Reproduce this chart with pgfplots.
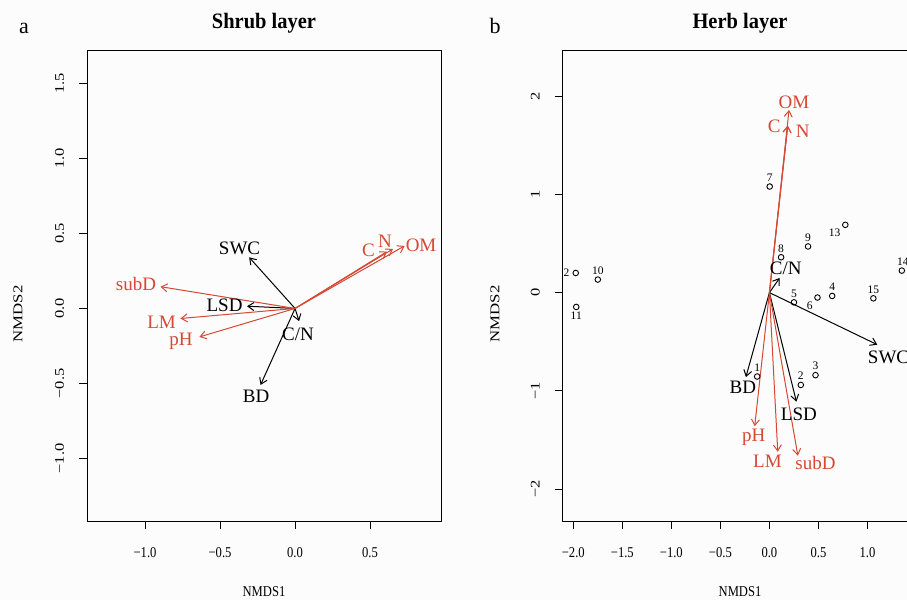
\documentclass[border=0pt]{standalone}
\usepackage{fontspec}
\setmainfont{Liberation Serif}
\usepackage{pgfplots}
\pgfplotsset{compat=1.18}
\usetikzlibrary{arrows.meta}
\definecolor{envred}{RGB}{214,72,52}

\pgfplotsset{
  nmds/.style={
    scale only axis, width=354pt, height=471pt, anchor=south west,
    axis line style={line width=0.8pt},
    tick align=outside, major tick length=8pt, tick pos=left,
    every tick/.style={black, line width=0.8pt},
    xticklabel style={font=\fontsize{15}{17}\selectfont, xscale=0.84},
    yticklabel style={font=\fontsize{16.5}{18}\selectfont, rotate=90, yscale=0.8, anchor=south},
    xticklabel shift=15pt, yticklabel shift=12pt,
  },
  blk/.style={black, line width=1pt, -{Straight Barb[length=6pt,width=8pt]}},
  rd/.style={envred, line width=1pt, -{Straight Barb[length=6pt,width=8pt]}},
}
\newcommand{\lab}{\fontsize{19}{21}\selectfont}
\newcommand{\num}{\fontsize{11.5}{13}\selectfont}

\begin{document}
\begin{tikzpicture}[x=1pt,y=1pt]
\useasboundingbox (0,0) rectangle (907,600);
\clip (0,0) rectangle (907,600);
\fill[black!1] (0,0) rectangle (907,600);

% panel a
\begin{axis}[nmds, at={(87pt,79pt)},
  xmin=-1.387, xmax=0.973, ymin=-1.417, ymax=1.723,
  xtick={-1,-0.5,0,0.5}, xticklabels={−1.0,−0.5,0.0,0.5},
  ytick={-1,-0.5,0,0.5,1,1.5}, yticklabels={−1.0,−0.5,0.0,0.5,1.0,1.5}]
\addplot[blk] coordinates {(0,0) (-0.306,0.341)};
\addplot[blk] coordinates {(0,0) (-0.32,0.015)};
\addplot[blk] coordinates {(0,0) (0.027,-0.085)};
\addplot[blk] coordinates {(0,0) (-0.23,-0.51)};
\addplot[rd] coordinates {(0,0) (-0.897,0.145)};
\addplot[rd] coordinates {(0,0) (-0.764,-0.067)};
\addplot[rd] coordinates {(0,0) (-0.638,-0.19)};
\addplot[rd] coordinates {(0,0) (0.613,0.379)};
\addplot[rd] coordinates {(0,0) (0.653,0.397)};
\addplot[rd] coordinates {(0,0) (0.73,0.417)};
\node[font=\lab] at (axis cs:-0.37,0.40) {SWC};
\node[font=\lab] at (axis cs:-0.47,0.018) {LSD};
\node[font=\lab] at (axis cs:0.02,-0.17) {C/N};
\node[font=\lab] at (axis cs:-0.26,-0.587) {BD};
\node[font=\lab, envred] at (axis cs:-1.06,0.16) {subD};
\node[font=\lab, envred] at (axis cs:-0.89,-0.094) {LM};
\node[font=\lab, envred] at (axis cs:-0.76,-0.22) {pH};
\node[font=\lab, envred] at (axis cs:0.49,0.386) {C};
\node[font=\lab, envred] at (axis cs:0.60,0.45) {N};
\node[font=\lab, envred] at (axis cs:0.84,0.42) {OM};
\end{axis}

% panel b
\begin{axis}[nmds, at={(562.5pt,79pt)},
  xmin=-2.11, xmax=1.5, ymin=-2.325, ymax=2.47,
  xtick={-2,-1.5,-1,-0.5,0,0.5,1}, xticklabels={−2.0,−1.5,−1.0,−0.5,0.0,0.5,1.0},
  ytick={-2,-1,0,1,2}, yticklabels={−2,−1,0,1,2}]
\addplot[only marks, mark=o, mark size=2.8pt, mark options={line width=0.9pt}, black]
  coordinates {(-0.125,-0.854) (0.32,-0.94) (0.47,-0.84) (0.64,-0.034) (0.25,-0.099)
    (0.49,-0.05) (0.003,1.08) (0.119,0.36) (0.394,0.47) (-1.75,0.133)
    (-1.97,-0.146) (-1.975,0.20) (0.774,0.69) (1.35,0.224) (1.06,-0.058)};
\addplot[blk] coordinates {(0,0) (0.105,0.15)};
\addplot[blk] coordinates {(0,0) (1.10,-0.53)};
\addplot[blk] coordinates {(0,0) (-0.24,-0.86)};
\addplot[blk] coordinates {(0,0) (0.275,-1.11)};
\addplot[rd] coordinates {(0,0) (0.20,1.86)};
\addplot[rd] coordinates {(0,0) (0.187,1.70)};
\addplot[rd] coordinates {(0,0) (0.187,1.70)};
\addplot[rd] coordinates {(0,0) (-0.15,-1.36)};
\addplot[rd] coordinates {(0,0) (0.085,-1.62)};
\addplot[rd] coordinates {(0,0) (0.29,-1.66)};
\node[font=\lab, envred] at (axis cs:0.25,1.94) {OM};
\node[font=\lab, envred] at (axis cs:0.05,1.69) {C};
\node[font=\lab, envred] at (axis cs:0.34,1.64) {N};
\node[font=\lab, envred] at (axis cs:-0.16,-1.47) {pH};
\node[font=\lab, envred] at (axis cs:-0.02,-1.72) {LM};
\node[font=\lab, envred] at (axis cs:0.47,-1.73) {subD};
\node[font=\lab] at (axis cs:0.166,0.25) {C/N};
\node[font=\lab] at (axis cs:1.215,-0.66) {SWC};
\node[font=\lab] at (axis cs:-0.27,-0.96) {BD};
\node[font=\lab] at (axis cs:0.30,-1.235) {LSD};
\node[font=\num] at (axis cs:-0.125,-0.76) {1};
\node[font=\num] at (axis cs:0.32,-0.85) {2};
\node[font=\num] at (axis cs:0.47,-0.745) {3};
\node[font=\num] at (axis cs:0.64,0.06) {4};
\node[font=\num] at (axis cs:0.25,-0.01) {5};
\node[font=\num] at (axis cs:0.41,-0.13) {6};
\node[font=\num] at (axis cs:0.003,1.17) {7};
\node[font=\num] at (axis cs:0.119,0.45) {8};
\node[font=\num] at (axis cs:0.394,0.56) {9};
\node[font=\num] at (axis cs:-1.75,0.225) {10};
\node[font=\num] at (axis cs:-1.97,-0.24) {11};
\node[font=\num] at (axis cs:-2.07,0.20) {2};
\node[font=\num] at (axis cs:0.665,0.61) {13};
\node[font=\num] at (axis cs:1.36,0.31) {14};
\node[font=\num] at (axis cs:1.06,0.03) {15};
\end{axis}

\node[font=\fontsize{15}{17}\selectfont, xscale=0.84] at (264,8) {NMDS1};
\node[font=\fontsize{15}{17}\selectfont, xscale=0.84] at (740,8) {NMDS1};
\node[font=\fontsize{16.8}{18}\selectfont, rotate=90, yscale=0.8] at (18,286) {NMDS2};
\node[font=\fontsize{16.8}{18}\selectfont, rotate=90, yscale=0.8] at (495,286) {NMDS2};
\node[font=\fontsize{22}{24}\selectfont\bfseries, xscale=0.93, anchor=base] at (264,571) {Shrub layer};
\node[font=\fontsize{22}{24}\selectfont\bfseries, xscale=0.93, anchor=base] at (740,571) {Herb layer};
\node[font=\fontsize{22}{24}\selectfont, anchor=base] at (24,566) {a};
\node[font=\fontsize{22}{24}\selectfont, anchor=base] at (495,566) {b};
\end{tikzpicture}
\end{document}
